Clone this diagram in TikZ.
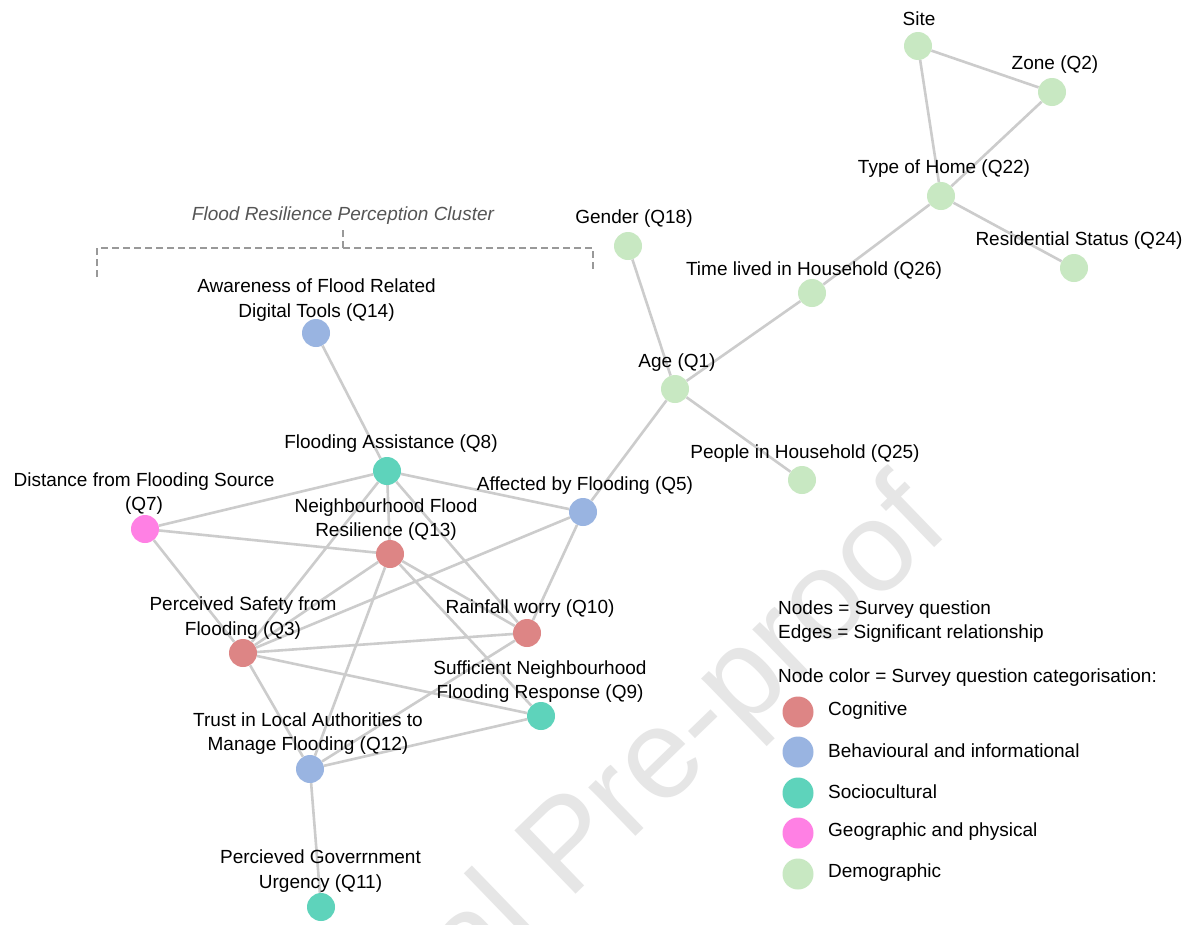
\documentclass[tikz,border=0pt]{standalone}
\usepackage{fontspec}
\setmainfont{Liberation Sans}
\definecolor{cog}{HTML}{DD8585}
\definecolor{beh}{HTML}{99B4E1}
\definecolor{soc}{HTML}{5ED3BB}
\definecolor{geo}{HTML}{FF80E4}
\definecolor{dem}{HTML}{C8E8C2}
\definecolor{edgegray}{HTML}{CCCCCC}
\definecolor{wmgray}{HTML}{E6E6E6}
\definecolor{brgray}{HTML}{999999}
\definecolor{titlegray}{HTML}{555555}
\tikzset{
  qnode/.style={circle, minimum size=28pt, inner sep=0pt, fill=#1, draw=none},
  legnode/.style={circle, minimum size=31pt, inner sep=0pt, fill=#1, draw=none},
  lbl/.style={align=center, inner sep=0pt, text=black, font=\fontsize{19}{24.5}\selectfont},
  legtxt/.style={anchor=west, inner sep=0pt, text=black, font=\fontsize{19}{24.5}\selectfont},
  conn/.style={draw=edgegray, line width=2.6pt},
  bracket/.style={draw=brgray, line width=1.2pt, dash pattern=on 7pt off 4pt},
  wmark/.style={inner sep=0pt, text=wmgray, font=\fontsize{128}{128}\selectfont},
}
\begin{document}
\begin{tikzpicture}[x=1pt, y=-1pt]
\useasboundingbox (0,0) rectangle (1190,924);
\fill[white] (0,0) rectangle (1190,924);
% watermark
\begin{scope}
\clip (0,0) rectangle (1190,924);
\node[wmark, rotate=44, anchor=base west] (wm) at (241,1218) {Journal Pre-proof};
\end{scope}

% cluster bracket
\coordinate (bl) at (97,277);
\coordinate (blt) at (97,248);
\coordinate (brt) at (593,248);
\coordinate (br) at (593,272);
\coordinate (bm) at (343,248);
\coordinate (bmt) at (343,230);
\draw[bracket] (bl) -- (blt) -- (brt) -- (br);
\draw[bracket] (bm) -- (bmt);
\node[lbl, text=titlegray, font=\fontsize{19}{24.5}\selectfont\itshape] (cl) at (343,216) {Flood Resilience Perception Cluster};

% nodes
\node[qnode=dem] (site) at (918,46) {};
\node[qnode=dem] (zone) at (1052,92) {};
\node[qnode=dem] (q22) at (941,196) {};
\node[qnode=dem] (q24) at (1074,268) {};
\node[qnode=dem] (q18) at (628,246) {};
\node[qnode=dem] (q26) at (812,293) {};
\node[qnode=dem] (q1) at (675,389) {};
\node[qnode=dem] (q25) at (802,480) {};
\node[qnode=beh] (q14) at (316,333) {};
\node[qnode=soc] (q8) at (387,471) {};
\node[qnode=beh] (q5) at (583,512) {};
\node[qnode=geo] (q7) at (145,529) {};
\node[qnode=cog] (q13) at (390,554) {};
\node[qnode=cog] (q10) at (527,633) {};
\node[qnode=cog] (q3) at (243,653) {};
\node[qnode=soc] (q9) at (541,716) {};
\node[qnode=beh] (q12) at (310,769) {};
\node[qnode=soc] (q11) at (321,907) {};

% edges
\begin{scope}[on background layer/.style={}]
\end{scope}
\foreach \a/\b in {site/zone, site/q22, zone/q22, q22/q24, q22/q26, q26/q1, q18/q1, q1/q25, q1/q5,
  q14/q8, q8/q7, q8/q5, q8/q13, q8/q3, q8/q10, q7/q13, q7/q3, q13/q3, q13/q12, q13/q10, q13/q9,
  q5/q3, q5/q10, q3/q10, q3/q9, q3/q12, q10/q12, q9/q12, q12/q11}
  \draw[conn] (\a) -- (\b);

% labels
\node[lbl] (sitel) at (919,19) {Site};
\node[lbl] (zonel) at (1055,65) {Zone (Q2)};
\node[lbl] (q22l) at (944,169) {Type of Home (Q22)};
\node[lbl] (q24l) at (1079,241) {Residential Status (Q24)};
\node[lbl] (q18l) at (634,219) {Gender (Q18)};
\node[lbl] (q26l) at (814,271) {Time lived in Household (Q26)};
\node[lbl] (q1l) at (677,363) {Age (Q1)};
\node[lbl] (q25l) at (805,454) {People in Household (Q25)};
\node[lbl] (q14l) at (316.5,300) {Awareness of Flood Related\\Digital Tools (Q14)};
\node[lbl] (q8l) at (391,444) {Flooding Assistance (Q8)};
\node[lbl] (q5l) at (585,486) {Affected by Flooding (Q5)};
\node[lbl] (q7l) at (144,493.5) {Distance from Flooding Source\\(Q7)};
\node[lbl] (q13l) at (386,519.5) {Neighbourhood Flood\\Resilience (Q13)};
\node[lbl] (q10l) at (530,609) {Rainfall worry (Q10)};
\node[lbl] (q3l) at (243,618) {Perceived Safety from\\Flooding (Q3)};
\node[lbl] (q9l) at (540,681.5) {Sufficient Neighbourhood\\Flooding Response (Q9)};
\node[lbl] (q12l) at (308,733.5) {Trust in Local Authorities to\\Manage Flooding (Q12)};
\node[lbl] (q11l) at (320.5,871) {Percieved Goverrnment\\Urgency (Q11)};

% legend
\node[legtxt] (lg1) at (778,610) {Nodes = Survey question};
\node[legtxt] (lg2) at (778,634) {Edges = Significant relationship};
\node[legtxt] (lg3) at (778,678) {Node color = Survey question categorisation:};
\node[legnode=cog] (lc1) at (798,712) {};
\node[legnode=beh] (lc2) at (798,752) {};
\node[legnode=soc] (lc3) at (798,793) {};
\node[legnode=geo] (lc4) at (798,833) {};
\node[legnode=dem] (lc5) at (798,874) {};
\node[legtxt] (lt1) at (828,711) {Cognitive};
\node[legtxt] (lt2) at (828,751) {Behavioural and informational};
\node[legtxt] (lt3) at (828,792) {Sociocultural};
\node[legtxt] (lt4) at (828,832) {Geographic and physical};
\node[legtxt] (lt5) at (828,873) {Demographic};
\end{tikzpicture}
\end{document}
